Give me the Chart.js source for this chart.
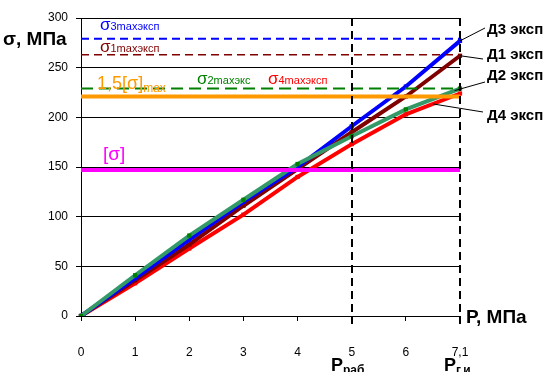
<!DOCTYPE html>
<html>
<head>
<meta charset="utf-8">
<script src="https://cdn.jsdelivr.net/npm/chart.js@4"></script>
<style>
    html, body { margin: 0; padding: 0; background: #fff; }
    #wrap { width: 544px; height: 372px; }
</style>
</head>
<body>
<div id="wrap"><canvas id="chart" width="544" height="372"></canvas></div>
<script>
// pressure P, MPa (categories)
const pressures = ['0', '1', '2', '3', '4', '5', '6', '7,1'];

// stress sigma, MPa for the four gauges
const d1Values = [0, 36, 72, 111, 148, 185, 221, 262];
const d2Values = [0, 41, 81, 117, 153, 181, 208, 229];
const d3Values = [0, 38, 77, 115, 150, 191, 231, 277];
const d4Values = [0, 33, 68, 102, 140, 173, 203, 224];

// limit levels
const sigma3Max = 279;
const sigma1Max = 263;
const sigma2Max = 229;
const sigmaAllowed15 = 221;
const sigmaAllowed = 147;

// marked pressures (working / test)
const markedPressures = ['5', '7,1'];

const FONT = '"Liberation Sans", Arial, sans-serif';

const flat = v => pressures.map(() => v);

function seriesLine(label, data, color, markerColor, order) {
    return {
        label, data, order,
        borderColor: color,
        borderWidth: 4,
        pointStyle: 'rect',
        pointRadius: 3,
        pointBackgroundColor: markerColor,
        pointBorderColor: markerColor,
        pointBorderWidth: 0,
        tension: 0
    };
}

function limitLine(label, value, color, width, dash, order) {
    return {
        label, data: flat(value), order,
        borderColor: color,
        borderWidth: width,
        borderDash: dash,
        pointRadius: 0,
        tension: 0
    };
}

// text with a lowered small part
function subText(ctx, x, y, main, sub, color, mainFont, subFont, dy) {
    ctx.fillStyle = color;
    ctx.textAlign = 'left';
    ctx.textBaseline = 'alphabetic';
    ctx.font = mainFont;
    ctx.fillText(main, x, y);
    const w = ctx.measureText(main).width;
    ctx.font = subFont;
    ctx.fillText(sub, x + w, y + (dy || 0));
}

const annotations = {
    id: 'annotations',
    afterDatasetsDraw(chart) {
        const { ctx, scales: { x, y } } = chart;
        ctx.save();
        ctx.strokeStyle = '#000';
        ctx.lineWidth = 2;
        ctx.setLineDash([8, 5]);
        markedPressures.forEach(p => {
            const px = Math.round(x.getPixelForValue(pressures.indexOf(p)));
            ctx.beginPath();
            ctx.moveTo(px, y.getPixelForValue(300));
            ctx.lineTo(px, y.getPixelForValue(0) + 8);
            ctx.stroke();
        });
        ctx.restore();
    },
    afterDraw(chart) {
        const { ctx, scales: { x, y } } = chart;
        ctx.save();

        // axis titles
        ctx.fillStyle = '#000';
        ctx.font = 'bold 19px ' + FONT;
        ctx.textBaseline = 'alphabetic';
        ctx.fillText('σ, МПа', 3, 45);
        ctx.fillText('Р, МПа', 466, 323);

        // pressure marks under the axis
        subText(ctx, 331, 371, 'Р', 'раб', '#000', 'bold 18px ' + FONT, 'bold 12px ' + FONT, 3);
        subText(ctx, 444, 371, 'Р', 'г.и', '#000', 'bold 18px ' + FONT, 'bold 12px ' + FONT, 3);

        // limit labels
        const big = '17px ' + FONT, small = '11px ' + FONT;
        subText(ctx, 100, 30, 'σ', '3maxэксп', '#0000FF', big, small, 0);
        subText(ctx, 100, 52, 'σ', '1maxэксп', '#800000', big, small, 0);
        subText(ctx, 197, 84, 'σ', '2maxэкс', '#008000', big, small, 0);
        subText(ctx, 268, 84, 'σ', '4maxэксп', '#FF0000', big, small, 0);
        subText(ctx, 97, 89, '1,5[σ]', 'max', '#FF9900', '18px ' + FONT, '12px ' + FONT, 3);
        ctx.fillStyle = '#FF00FF';
        ctx.font = '19px ' + FONT;
        ctx.fillText('[σ]', 103, 160);

        // series labels with leader lines
        const at = (data, i, f) => ({
            px: x.getPixelForValue(i) + (x.getPixelForValue(i + 1) - x.getPixelForValue(i)) * f,
            py: y.getPixelForValue(data[i] + (data[i + 1] - data[i]) * f)
        });
        const tags = [
            { text: 'Д3 эксп', ty: 34, from: [485, 28], to: at(d3Values, 6, 1) },
            { text: 'Д1 эксп', ty: 59, from: [483, 59], to: at(d1Values, 6, 1) },
            { text: 'Д2 эксп', ty: 80, from: [485, 82], to: at(d2Values, 6, 0.9) },
            { text: 'Д4 эксп', ty: 120, from: [483, 112], to: at(d4Values, 6, 0.5) }
        ];
        ctx.strokeStyle = '#000';
        ctx.lineWidth = 1;
        tags.forEach(t => {
            ctx.beginPath();
            ctx.moveTo(t.from[0], t.from[1]);
            ctx.lineTo(t.to.px, t.to.py);
            ctx.stroke();
            ctx.fillStyle = '#000';
            ctx.font = 'bold 15px ' + FONT;
            ctx.fillText(t.text, 487, t.ty);
        });
        ctx.restore();
    }
};

new Chart(document.getElementById('chart'), {
    type: 'line',
    data: {
        labels: pressures,
        datasets: [
            limitLine('σ3max', sigma3Max, '#0000FF', 2, [8, 5], 0),
            limitLine('σ1max', sigma1Max, '#800000', 1.5, [8, 5], 1),
            limitLine('σ2max', sigma2Max, '#008000', 2, [12, 6], 2),
            limitLine('1,5[σ]', sigmaAllowed15, '#FF9900', 4, [], 3),
            limitLine('[σ]', sigmaAllowed, '#FF00FF', 4, [], 4),
            seriesLine('Д2 эксп', d2Values, '#339966', '#008000', 5),
            seriesLine('Д3 эксп', d3Values, '#0000FF', '#0000FF', 6),
            seriesLine('Д1 эксп', d1Values, '#800000', '#800000', 7),
            seriesLine('Д4 эксп', d4Values, '#FF0000', '#FF0000', 8)
        ]
    },
    options: {
        responsive: false,
        animation: false,
        devicePixelRatio: 1,
        layout: { padding: { top: 18, right: 84, left: 0, bottom: 0 } },
        plugins: { legend: { display: false }, tooltip: { enabled: false } },
        scales: {
            x: {
                offset: false,
                afterFit: s => { s.height = 56; },
                grid: { drawOnChartArea: false, drawTicks: true, tickLength: 5, color: '#000' },
                border: { color: '#000', width: 1 },
                ticks: { color: '#000', font: { family: FONT, size: 12 }, padding: 24, maxRotation: 0, autoSkip: false }
            },
            y: {
                min: 0, max: 300,
                afterFit: s => { s.width = 81; },
                grid: { color: '#000', lineWidth: 1, tickLength: 5 },
                border: { color: '#000', width: 1 },
                ticks: { stepSize: 50, color: '#000', font: { family: FONT, size: 12 }, padding: 8 }
            }
        }
    },
    plugins: [annotations]
});
</script>
</body>
</html>
